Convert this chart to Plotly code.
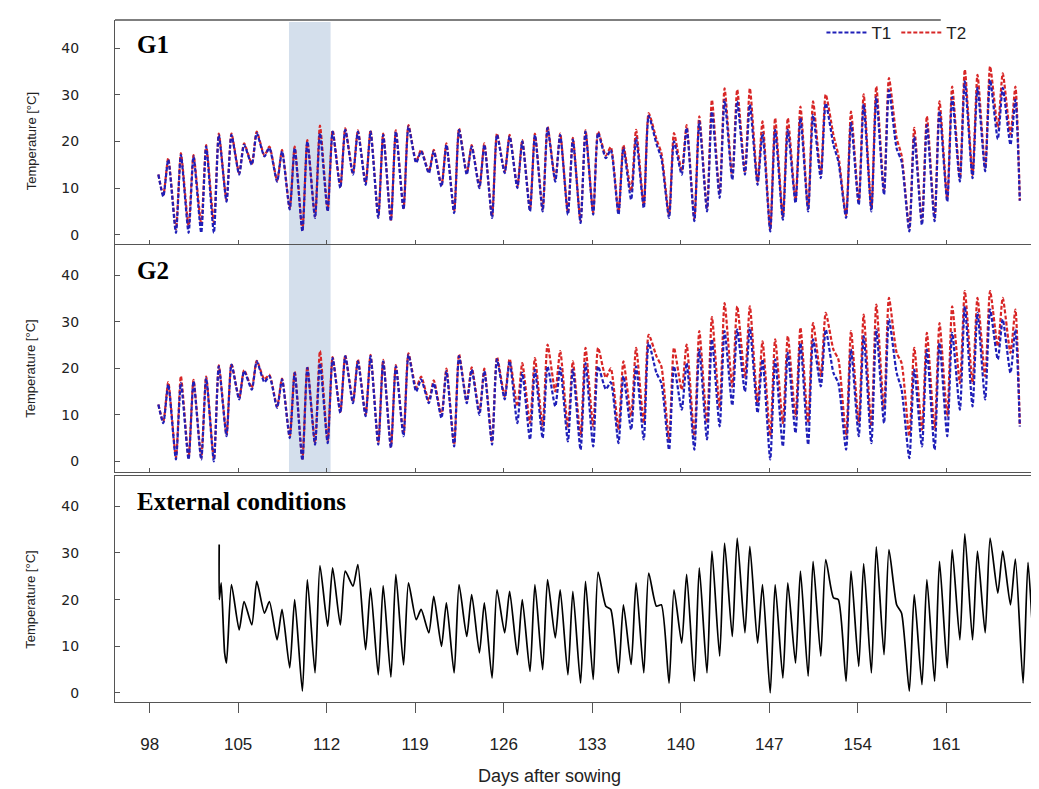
import plotly.graph_objects as go
from plotly.subplots import make_subplots

# one daily cycle per day: night minimum, then afternoon maximum
days = list(range(99, 167))
ext_days = list(range(104, 169))
MIN_AT, MAX_AT = 0.08, 0.47

g_start_day, g_end_day = 98.69, 166.82
g1_start, g1_end = 12.9, 7.3
g2_start, g2_end = 12.2, 7.5

g1_t1_min = [8.2, 0.4, 0.4, 0.4, 0.4, 7.1, 12.9, 15.0, 16.8, 11.4,
             5.4, 0.7, 3.6, 5.0, 10.0, 12.9, 10.7, 3.6, 2.9, 5.4,
             15.4, 13.2, 10.3, 4.6, 12.9, 10.0, 3.6, 13.2, 10.0, 5.0,
             5.0, 11.4, 4.3, 2.5, 4.3, 16.4, 4.3, 7.5, 5.7, 19.5,
             3.6, 12.9, 2.9, 5.0, 7.9, 11.8, 12.9, 10.7, 0.7, 3.2,
             6.8, 5.0, 12.1, 19.3, 3.6, 6.4, 5.0, 8.6, 18.5, 0.7,
             2.1, 2.9, 7.1, 11.4, 12.1, 13.6, 20.5, 19.3]
g1_t1_max = [16.1, 17.1, 16.8, 18.9, 21.4, 21.4, 19.3, 21.8, 18.6, 17.9,
             18.6, 20.0, 21.8, 22.1, 22.5, 22.1, 22.1, 21.4, 22.1, 23.2,
             17.9, 17.9, 19.3, 22.5, 18.9, 19.3, 21.4, 21.1, 20.0, 21.4,
             22.9, 21.4, 20.4, 22.1, 21.8, 18.2, 18.6, 20.7, 25.5, 16.4,
             20.0, 22.9, 24.3, 26.4, 28.9, 28.6, 27.9, 21.8, 22.5, 22.5,
             25.0, 25.7, 28.2, 15.7, 24.0, 28.0, 29.5, 31.0, 15.7, 21.0,
             23.5, 26.5, 29.5, 32.9, 31.5, 33.2, 31.5, 29.0]
g1_t2_min = [8.5, 1.2, 1.8, 2.2, 2.6, 7.4, 13.2, 15.2, 17.0, 11.6,
             5.7, 1.0, 3.9, 5.3, 10.3, 13.1, 11.0, 3.9, 3.2, 5.7,
             15.7, 13.5, 10.6, 4.9, 13.2, 10.3, 3.9, 13.5, 10.3, 5.4,
             5.4, 11.8, 4.7, 2.9, 4.7, 17.0, 4.8, 9.3, 6.3, 20.5,
             4.2, 13.6, 3.4, 5.6, 8.6, 12.3, 13.4, 11.4, 1.2, 3.8,
             7.4, 5.6, 13.0, 21.4, 4.2, 7.0, 5.6, 9.3, 20.7, 1.3,
             2.7, 3.5, 7.8, 12.1, 12.8, 14.3, 23.0, 21.5]
g1_t2_max = [16.4, 17.5, 17.1, 19.2, 21.7, 21.7, 19.6, 22.1, 18.9, 18.2,
             18.9, 20.3, 23.4, 22.4, 22.8, 22.4, 22.4, 21.7, 22.4, 23.5,
             18.2, 18.2, 19.6, 22.8, 19.2, 19.6, 21.7, 21.4, 20.3, 21.7,
             23.2, 21.7, 20.8, 22.4, 22.1, 18.8, 19.2, 22.5, 26.1, 17.5,
             21.8, 23.5, 25.4, 28.9, 31.4, 31.1, 31.4, 24.3, 25.0, 25.0,
             27.5, 28.6, 30.1, 17.0, 26.4, 30.1, 31.8, 33.6, 17.0, 22.9,
             25.4, 28.6, 31.8, 35.4, 34.3, 36.1, 34.6, 31.8]

g2_t1_min = [8.2, 0.4, 0.4, 0.4, 0.0, 5.4, 13.3, 15.4, 17.0, 11.5,
             5.0, 0.2, 3.6, 3.9, 10.4, 12.5, 9.7, 3.6, 2.9, 5.4,
             15.0, 12.5, 9.3, 3.2, 12.5, 10.0, 3.6, 13.3, 8.2, 4.7,
             5.0, 11.8, 4.3, 2.5, 3.2, 15.5, 3.9, 6.8, 4.7, 19.0,
             2.5, 11.1, 2.5, 4.7, 7.5, 12.0, 15.0, 10.4, 0.4, 3.2,
             6.1, 3.6, 16.1, 19.0, 2.5, 5.4, 3.9, 8.2, 19.0, 0.7,
             3.2, 2.5, 5.4, 11.1, 11.8, 13.3, 21.9, 19.0]
g2_t1_max = [16.5, 16.8, 17.2, 17.9, 20.4, 20.8, 19.4, 21.5, 18.3, 17.6,
             19.0, 20.1, 21.1, 22.2, 22.6, 21.5, 22.6, 21.5, 20.4, 22.9,
             17.6, 16.8, 19.4, 22.6, 19.7, 19.4, 21.9, 21.5, 19.0, 19.7,
             20.4, 20.1, 19.7, 21.1, 20.4, 17.0, 18.3, 20.4, 25.4, 16.8,
             20.4, 21.1, 24.0, 26.2, 28.0, 28.3, 28.7, 21.9, 21.9, 23.3,
             25.4, 26.2, 28.3, 16.8, 24.0, 26.9, 28.3, 30.5, 15.4, 19.7,
             24.0, 25.4, 27.6, 33.3, 31.9, 32.6, 30.5, 28.3]
g2_t2_min = [8.5, 0.8, 0.8, 0.8, 0.5, 5.8, 13.5, 15.8, 17.6, 11.8,
             5.3, 0.6, 4.0, 4.3, 10.6, 12.8, 10.0, 3.9, 3.2, 5.7,
             15.8, 13.0, 9.8, 3.6, 13.0, 10.5, 4.2, 14.0, 11.8, 8.2,
             7.5, 15.0, 7.2, 5.4, 7.5, 18.0, 6.8, 9.7, 8.2, 22.6,
             4.7, 15.4, 5.4, 8.2, 11.5, 16.0, 18.0, 12.5, 5.4, 8.2,
             9.7, 8.2, 18.3, 24.0, 5.4, 8.2, 7.5, 11.1, 23.3, 5.4,
             6.8, 6.8, 9.7, 16.8, 16.8, 18.3, 24.7, 23.3]
g2_t2_max = [17.0, 18.3, 17.5, 18.2, 20.6, 21.0, 19.6, 21.6, 18.6, 17.8,
             19.3, 20.4, 23.7, 22.4, 22.8, 21.9, 22.9, 21.8, 20.7, 23.2,
             18.2, 17.4, 19.9, 23.0, 20.2, 19.9, 22.4, 22.0, 21.1, 22.2,
             25.1, 23.7, 21.5, 24.4, 24.4, 20.0, 21.5, 24.4, 27.2, 20.4,
             24.4, 25.1, 28.0, 31.0, 34.0, 33.3, 33.3, 25.8, 26.2, 26.9,
             28.7, 29.7, 31.9, 21.9, 28.0, 31.5, 33.7, 35.1, 21.1, 24.4,
             27.6, 29.7, 33.3, 36.6, 35.1, 36.6, 35.1, 32.6]

# external sensor starts later with a short spike
ext_head_days = [103.50, 103.51, 103.66, 103.93]
ext_head_vals = [31.8, 20.0, 23.6, 8.6]
ext_end_day, ext_end_val = 168.97, 10.0
ext_min = [6.4, 13.5, 14.6, 17.1, 11.4, 5.4, 0.4, 4.3, 14.3, 14.6,
           22.9, 9.3, 3.9, 3.4, 6.0, 15.7, 12.9, 10.0, 4.3, 12.1,
           8.6, 3.2, 12.9, 8.2, 4.6, 5.0, 11.8, 3.9, 2.1, 2.9,
           18.6, 4.3, 6.1, 4.3, 18.6, 2.1, 10.7, 2.5, 4.3, 7.9,
           12.1, 12.9, 10.7, 0.0, 3.2, 6.4, 3.6, 7.9, 20.4, 2.5,
           5.7, 4.3, 8.2, 18.9, 0.4, 1.8, 2.5, 5.4, 11.4, 11.4,
           12.9, 21.4, 18.9, 2.1, 3.6]
ext_max = [23.2, 19.6, 23.9, 19.6, 17.9, 20.0, 24.3, 27.3, 26.8, 26.1,
           27.5, 22.5, 23.0, 25.4, 23.6, 17.9, 20.7, 19.3, 23.2, 21.1,
           19.3, 22.1, 21.8, 20.0, 23.2, 24.3, 22.1, 21.8, 23.9, 25.9,
           17.9, 18.9, 23.6, 25.7, 18.9, 22.1, 25.4, 26.8, 30.4, 32.1,
           33.2, 31.4, 23.2, 23.2, 23.6, 26.1, 28.2, 28.6, 20.0, 26.1,
           27.7, 31.3, 30.7, 17.1, 21.1, 24.3, 28.2, 30.7, 34.1, 30.4,
           33.2, 30.4, 28.7, 28.0, 29.1]

x_ticks = [98, 105, 112, 119, 126, 133, 140, 147, 154, 161]
y_ticks = [0, 10, 20, 30, 40]
highlight = (109.02, 112.31)

BLUE = "#1f1fb8"
RED = "#d82626"


def daily_series(day_list, mins, maxs, head_x, head_y, tail_x, tail_y):
    xs, ys = list(head_x), list(head_y)
    for d, lo, hi in zip(day_list, mins, maxs):
        xs += [d + MIN_AT, d + MAX_AT]
        ys += [lo, hi]
    xs += list(tail_x)
    ys += list(tail_y)
    return xs, ys


fig = make_subplots(rows=3, cols=1, vertical_spacing=0)

panels = [
    (1, g1_t1_min, g1_t1_max, g1_t2_min, g1_t2_max, g1_start, g1_end),
    (2, g2_t1_min, g2_t1_max, g2_t2_min, g2_t2_max, g2_start, g2_end),
]
for row, t1_lo, t1_hi, t2_lo, t2_hi, start, end in panels:
    for name, lo, hi, color, rank in [("T2", t2_lo, t2_hi, RED, 2),
                                      ("T1", t1_lo, t1_hi, BLUE, 1)]:
        xs, ys = daily_series(days, lo, hi, [g_start_day], [start],
                              [g_end_day], [end])
        fig.add_trace(
            go.Scatter(
                x=xs, y=ys, mode="lines", name=name,
                line=dict(color=color, width=2.2, dash="4px,2px",
                          shape="spline", smoothing=0.6),
                showlegend=(row == 1), legendrank=rank,
            ),
            row=row, col=1,
        )

ex, ey = daily_series(ext_days, ext_min, ext_max, ext_head_days, ext_head_vals,
                      [ext_end_day], [ext_end_val])
fig.add_trace(
    go.Scatter(x=ex, y=ey, mode="lines", showlegend=False,
               line=dict(color="black", width=1.7, shape="spline", smoothing=0.6)),
    row=3, col=1,
)

axis_col = "#555555"
domains = [[0.6716, 1.0], [0.3372, 0.6716], [0.0, 0.3318]]
y_ranges = [[-2.0, 46.07], [-2.3, 46.7], [-1.93, 46.56]]
for i in range(3):
    fig.update_yaxes(
        row=i + 1, col=1, domain=domains[i], range=y_ranges[i],
        tickvals=y_ticks, ticks="inside", ticklen=5, tickcolor=axis_col,
        showline=True, linecolor=axis_col, linewidth=1.3, mirror=False,
        showgrid=False, zeroline=False, ticklabelstandoff=32,
        tickfont=dict(family="DejaVu Sans", size=14, color="#222222"),
    )
    last = i == 2
    fig.update_xaxes(
        row=i + 1, col=1, range=[95.26, 168.97], tickvals=x_ticks,
        ticks="outside" if last else "inside", ticklen=10 if last else 4,
        tickcolor=axis_col, showticklabels=last,
        showline=True, linecolor=axis_col, linewidth=1.3, mirror=last,
        showgrid=False, zeroline=False, ticklabelstandoff=16,
        tickfont=dict(family="Liberation Sans", size=17, color="#222222"),
    )

fig.add_shape(type="rect", xref="x", yref="paper",
              x0=highlight[0], x1=highlight[1], y0=0.3368, y1=0.997,
              fillcolor="#d4dfec", line_width=0, layer="below")
# top frame line, hidden where the legend sits
fig.add_shape(type="line", xref="paper", yref="paper", x0=0, x1=0.886, y0=1, y1=1,
              line=dict(color=axis_col, width=1.3))

serif = dict(family="Liberation Serif", size=25, color="black")
for text, yy in [("<b>G1</b>", 0.9638), ("<b>G2</b>", 0.632),
                 ("<b>External conditions</b>", 0.2947)]:
    fig.add_annotation(text=text, xref="paper", yref="paper", x=0.021, y=yy,
                       xanchor="left", yanchor="middle", showarrow=False, font=serif)

for yy in [0.8221, 0.4887, 0.15]:
    fig.add_annotation(text="Temperature [°C]", xref="paper", yref="paper",
                       x=-0.0901, y=yy, xanchor="center", yanchor="middle",
                       textangle=-90, showarrow=False,
                       font=dict(family="Liberation Sans", size=13, color="#222222"))

fig.add_annotation(text="Days after sowing", xref="paper", yref="paper",
                   x=0.4667, y=-0.1085, xanchor="center", yanchor="middle",
                   showarrow=False,
                   font=dict(family="Liberation Sans", size=18, color="#222222"))

fig.update_layout(
    width=1039, height=789,
    margin=dict(l=107, r=0, t=12, b=95),
    paper_bgcolor="white", plot_bgcolor="white",
    legend=dict(orientation="h", x=0.758, y=0.981, xanchor="left", yanchor="middle",
                bgcolor="rgba(255,255,255,0)", itemwidth=40,
                font=dict(family="Liberation Sans", size=17, color="#222222")),
)

fig.write_html("out.html")
